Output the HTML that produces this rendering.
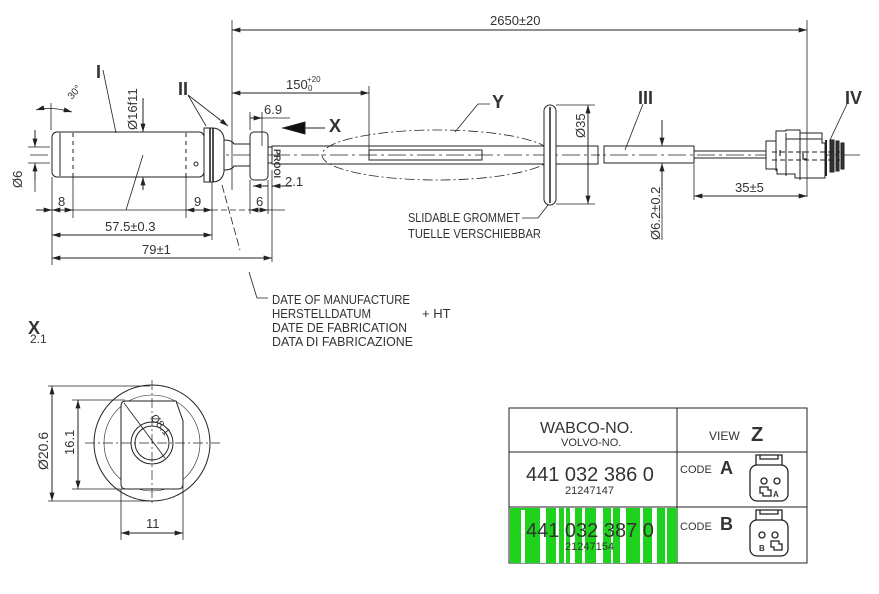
<!DOCTYPE html>
<html><head><meta charset="utf-8"><style>
html,body{margin:0;padding:0;background:#fff;}
svg{display:block;font-family:"Liberation Sans",sans-serif;}
text{fill:#333;}
</style></head><body>
<svg width="879" height="594" viewBox="0 0 879 594" xmlns="http://www.w3.org/2000/svg">
<defs>
<marker id="a" viewBox="0 0 10 6" refX="10" refY="3" markerWidth="9" markerHeight="5" orient="auto-start-reverse" markerUnits="userSpaceOnUse"><path d="M0,0L10,3L0,6z" fill="#222"/></marker>
</defs>
<g stroke="#222" stroke-width="1" fill="none">
<path d="M30,155H860" stroke-dasharray="18,4,3,4" stroke-width="0.8"/>
<rect x="52" y="132" width="152" height="45" rx="5" fill="#fff"/>
<path d="M60,133V176"/>
<path d="M73,133V177M186,133V177" stroke-dasharray="4,4"/>
<circle cx="196" cy="164" r="2"/>
<path d="M204,128h8q10,0 12,10v34q-2,10 -12,10h-8z" fill="#fff"/>
<path d="M210,128V182M213,128V182" stroke-width="1.6"/>
<path d="M224,140q8,0 10,4h16v22h-16q-2,4 -10,4"/>
<rect x="250" y="132" width="18" height="48" rx="4" fill="#fff"/>
<path d="M268,147h4v16h-4"/>
<rect x="272" y="146" width="326" height="18" fill="#fff"/>
<path d="M272,155H600" stroke-dasharray="18,4,3,4" stroke-width="0.8"/>
<rect x="369" y="150" width="113" height="10"/>
<ellipse cx="437" cy="155" rx="115" ry="25" stroke-dasharray="10,3,2,3" stroke-width="0.8"/>
<rect x="544" y="105" width="12" height="100" rx="6" fill="#fff"/>
<path d="M550,107V203" stroke-width="1.5"/>
<rect x="604" y="146" width="90" height="17"/>
<path d="M694,151H768M694,158H768"/>
<!-- connector -->
<path d="M766,141h10v-10h10v-1h14v3h22v10h3v35h-30v-4h-18v-5h-11z" fill="#fff"/>
<path d="M776,141V171M786,133V176M800,133V180M786,139h36"/>
<path d="M826,140v36" stroke-width="2"/>
<path d="M830,140h4v32h-4zM836,141h3v30h-3zM841,143h3v26h-3z" fill="#333"/>
<path d="M772,152H840M772,160H840" stroke-dasharray="5,3"/>
<path d="M780,150v6M803,151v8h4" stroke-width="1.2"/>
<!-- dims -->
<path d="M232,30H807" marker-start="url(#a)" marker-end="url(#a)"/>
<path d="M232,20V190M807,20V197" stroke-width="0.8"/>
<path d="M232,93H369" marker-start="url(#a)" marker-end="url(#a)"/>
<path d="M369,86V150" stroke-width="0.8"/>
<path d="M250,118H262" marker-end="url(#a)"/><path d="M262,118H290" stroke-width="0.8"/><path d="M250,112V130M262,112V146" stroke-width="0.8"/>
<path d="M268,186H253" marker-end="url(#a)"/><path d="M292,186H272" marker-end="url(#a)"/>
<path d="M268,180V214M272,170V262" stroke-width="0.8"/>
<path d="M588,105V204" marker-start="url(#a)" marker-end="url(#a)"/>
<path d="M556,105H595M556,204H595" stroke-width="0.8"/>
<path d="M662,120V146" marker-end="url(#a)"/><path d="M662,190V163" marker-end="url(#a)"/><path d="M662,163V240" stroke-width="0.8"/>
<path d="M694,196H807" marker-start="url(#a)" marker-end="url(#a)"/><path d="M694,164V200" stroke-width="0.8"/>
<path d="M35,130V147" marker-end="url(#a)"/><path d="M35,180V163" marker-end="url(#a)"/>
<path d="M28,147H50M28,163H50" stroke-width="0.8"/><path d="M35,163V192" stroke-width="0.8"/>
<path d="M143,98V132" marker-end="url(#a)"/><path d="M143,190V177" marker-end="url(#a)"/>
<path d="M36,210H52" marker-end="url(#a)"/><path d="M52,210H73" marker-start="url(#a)" marker-end="url(#a)"/><path d="M73,210H186" stroke-width="0.8"/>
<path d="M186,210H212" marker-start="url(#a)" marker-end="url(#a)"/><path d="M212,210H250" stroke-width="0.8" stroke-dasharray="6,3"/>
<path d="M250,210H268" marker-start="url(#a)" marker-end="url(#a)"/><path d="M268,210H285" stroke-width="0.8"/>
<path d="M52,177V265M73,177V218M186,177V218M212,182V240M250,180V214" stroke-width="0.8"/>
<path d="M52,235H212" marker-start="url(#a)" marker-end="url(#a)"/>
<path d="M52,258H272" marker-start="url(#a)" marker-end="url(#a)"/>
<path d="M36,110Q50,106 72,112" marker-start="url(#a)" marker-end="url(#a)" stroke-width="0.8"/>
<path d="M51,103V130" stroke-width="0.8"/>
<path d="M103,70L116,133M126,210L143,155" stroke-width="0.8"/>
<path d="M188,95L206,126M188,95L228,126" stroke-width="0.8" marker-end="url(#a)"/>
<path d="M222,185L240,250" stroke-width="0.8" stroke-dasharray="8,3"/>
<path d="M249,272L257,298H268" stroke-width="0.8"/>
<path d="M490,104H478L455,132" stroke-width="0.8"/>
<path d="M522,218H538L548,205" stroke-width="0.8"/>
<path d="M643,104L625,150" stroke-width="0.8"/>
<path d="M847,104L830,140" stroke-width="0.8"/>
<path d="M325,128H285" stroke-width="1"/>
<path d="M283,128L305,122V134z" fill="#111"/>
<!-- view X -->
<circle cx="152" cy="443" r="58"/>
<circle cx="152" cy="443" r="48" stroke-width="0.6"/>
<path d="M126,401h50l7,20v63q0,5 -5,5h-52q-5,0 -5,-5v-78q0,-5 5,-5z" fill="#fff"/>
<circle cx="152" cy="443" r="21"/><circle cx="152" cy="443" r="17"/>
<path d="M85,443H220M152,380V505" stroke-dasharray="10,3,2,3" stroke-width="0.7"/>
<path d="M124,403L165,458" stroke-width="0.8"/>
<path d="M52,386V501" marker-start="url(#a)" marker-end="url(#a)"/>
<path d="M48,386H150M48,501H150" stroke-width="0.8"/>
<path d="M78,400V489" marker-start="url(#a)" marker-end="url(#a)"/>
<path d="M72,400H125M72,489H125" stroke-width="0.8"/>
<path d="M121,533H183" marker-start="url(#a)" marker-end="url(#a)"/>
<path d="M121,489V540M183,480V540" stroke-width="0.8"/>
<rect x="509" y="408" width="298" height="155"/>
<path d="M509,452H807M509,507H807M677,408V563"/>
</g>
<rect x="510" y="508" width="167" height="55" fill="#1ed21e"/>
<g fill="#fff">
<rect x="521" y="510" width="4" height="53"/><rect x="540" y="508" width="6" height="55"/><rect x="556" y="508" width="3" height="55"/><rect x="564" y="508" width="2" height="55"/><rect x="570" y="508" width="5" height="55"/><rect x="582" y="508" width="3" height="55"/><rect x="596" y="508" width="7" height="55"/><rect x="611" y="508" width="2" height="55"/><rect x="620" y="508" width="6" height="55"/><rect x="640" y="508" width="3" height="55"/><rect x="652" y="508" width="5" height="55"/><rect x="665" y="508" width="2" height="55"/>
</g>
<g stroke="#222" fill="none" stroke-width="1.3">
<rect x="750" y="465" width="38" height="36" rx="7"/><path d="M756,465v-10h26v10M760,455v4h18v-4"/>
<circle cx="764" cy="481" r="3"/><path d="M760,487h8v3h3v6h-8v-3h-3z"/><circle cx="777" cy="481" r="3"/>
<rect x="750" y="520" width="38" height="36" rx="7"/><path d="M756,520v-10h26v10M760,510v4h18v-4"/>
<circle cx="762" cy="535" r="3"/><circle cx="775" cy="535" r="3"/><path d="M771,541h8v3h3v6h-8v-3h-3z"/>
</g>
<text x="773" y="497" font-size="8" font-weight="bold">A</text>
<text x="759" y="551" font-size="8" font-weight="bold">B</text>
<g font-size="13">
<text x="490" y="25">2650±20</text>
<text x="286" y="89">150</text><text x="307" y="82" font-size="8">+20</text><text x="308" y="91" font-size="8">0</text>
<text x="264" y="114">6.9</text>
<text x="285" y="186">2.1</text>
<text x="58" y="206">8</text><text x="194" y="206">9</text><text x="256" y="206">6</text>
<text x="105" y="231">57.5±0.3</text>
<text x="142" y="254">79±1</text>
<text x="735" y="192">35±5</text>
<text transform="translate(22,188) rotate(-90)">Ø6</text>
<text transform="translate(137,130) rotate(-90)">Ø16f11</text>
<text transform="translate(585,138) rotate(-90)">Ø35</text>
<text transform="translate(660,240) rotate(-90)">Ø6.2±0.2</text>
<text transform="translate(72,100) rotate(-50)" font-size="10">30°</text>
<text x="408" y="222" textLength="112" lengthAdjust="spacingAndGlyphs">SLIDABLE GROMMET</text>
<text x="408" y="238" textLength="133" lengthAdjust="spacingAndGlyphs">TUELLE VERSCHIEBBAR</text>
<text x="272" y="304" textLength="138" lengthAdjust="spacingAndGlyphs">DATE OF MANUFACTURE</text>
<text x="272" y="318" textLength="99" lengthAdjust="spacingAndGlyphs">HERSTELLDATUM</text><text x="422" y="318">+ HT</text>
<text x="272" y="332" textLength="135" lengthAdjust="spacingAndGlyphs">DATE DE FABRICATION</text>
<text x="272" y="346" textLength="141" lengthAdjust="spacingAndGlyphs">DATA DI FABRICAZIONE</text>
<text x="30" y="343" font-size="12">2.1</text>
<text transform="translate(48,470) rotate(-90)" font-size="14">Ø20.6</text>
<text transform="translate(74,455) rotate(-90)">16.1</text>
<text x="146" y="528">11</text>
<text transform="translate(150,418) rotate(50)" font-size="11">Ø8.1</text>
</g>
<g font-weight="bold" font-size="18">
<text x="96" y="78">I</text><text x="178" y="95">II</text><text x="329" y="132">X</text>
<text x="492" y="108">Y</text><text x="638" y="104">III</text><text x="845" y="104">IV</text>
<text x="28" y="334">X</text>
</g>
<text x="253" y="140" font-size="9" font-weight="bold" transform="rotate(90,259,155)">PROOI</text>
<text x="540" y="433" font-size="16">WABCO-NO.</text>
<text x="561" y="446" font-size="11">VOLVO-NO.</text>
<text x="709" y="440" font-size="12">VIEW</text><text x="751" y="441" font-size="20" font-weight="bold">Z</text>
<text x="526" y="481" font-size="20" fill="#444">441 032 386 0</text>
<text x="565" y="494" font-size="11">21247147</text>
<text x="526" y="537" font-size="20" fill="#444">441 032 387 0</text>
<text x="565" y="550" font-size="11">21247154</text>
<text x="680" y="473" font-size="11">CODE</text><text x="720" y="474" font-size="18" font-weight="bold">A</text>
<text x="680" y="530" font-size="11">CODE</text><text x="720" y="530" font-size="18" font-weight="bold">B</text>
</svg>
</body></html>
